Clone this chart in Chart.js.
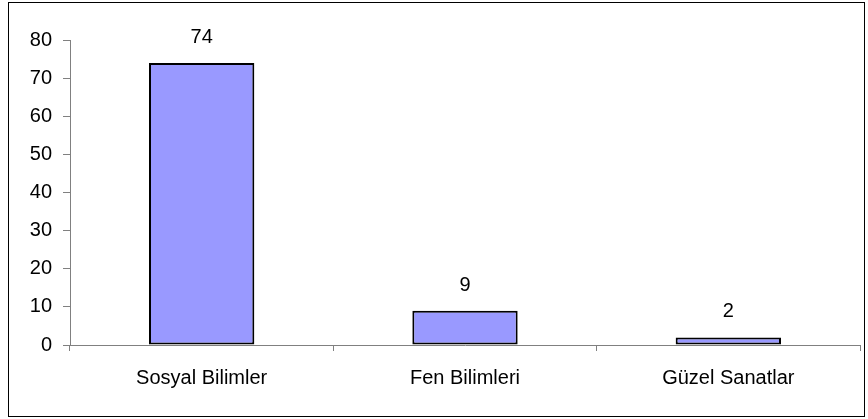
<!DOCTYPE html>
<html lang="tr">
<head>
  <meta charset="UTF-8" />
  <title>Alanlara göre dağılım</title>
  <script src="https://cdn.jsdelivr.net/npm/chart.js"></script>
  <style>
    body {
      margin: 0;
      background: #fff;
    }
    .wrap {
      position: relative;
      width: 868px;
      height: 419px;
    }
    .frame {
      position: absolute;
      left: 8px;
      top: 2px;
      width: 855px;
      height: 413px;
      border: 1px solid #000;
      pointer-events: none;
    }
    canvas {
      position: absolute;
      left: 0;
      top: 0;
    }
  </style>
</head>
<body>
  <div class="wrap">
    <canvas id="chart" width="868" height="419"></canvas>
    <div class="frame"></div>
  </div>

  <script>
    const categories = ['Sosyal Bilimler', 'Fen Bilimleri', 'Güzel Sanatlar'];
    const values = [74, 9, 2];
    const yTicks = [0, 10, 20, 30, 40, 50, 60, 70, 80];

    const fontFamily = 'Arial, "Liberation Sans", sans-serif';

    // value labels above each bar
    const valueLabels = {
      id: 'valueLabels',
      afterDatasetsDraw(chart) {
        const ctx = chart.ctx;
        const meta = chart.getDatasetMeta(0);
        ctx.save();
        ctx.font = '20px ' + fontFamily;
        ctx.fillStyle = '#000';
        ctx.textAlign = 'center';
        ctx.textBaseline = 'alphabetic';
        meta.data.forEach((bar, i) => {
          ctx.fillText(values[i], bar.x, bar.y - 20);
        });
        ctx.restore();
      }
    };

    new Chart(document.getElementById('chart'), {
      type: 'bar',
      data: {
        labels: categories,
        datasets: [{
          data: values,
          backgroundColor: '#9999ff',
          borderColor: '#000',
          borderWidth: 2,
          borderSkipped: false,
          barPercentage: 0.4,
          categoryPercentage: 1.0
        }]
      },
      options: {
        responsive: false,
        animation: false,
        layout: { padding: { top: 40, right: 8, left: 0, bottom: 0 } },
        plugins: {
          legend: { display: false },
          tooltip: { enabled: false }
        },
        scales: {
          x: {
            offset: true,
            grid: {
              offset: true,
              drawOnChartArea: false,
              drawTicks: true,
              tickLength: 6,
              color: '#808080'
            },
            border: { display: true, color: '#808080', width: 1 },
            ticks: {
              color: '#000',
              font: { family: fontFamily, size: 20 },
              padding: 15,
              maxRotation: 0
            },
            afterFit(axis) { axis.height = 74; }
          },
          y: {
            min: 0,
            max: 80,
            afterBuildTicks(axis) { axis.ticks = yTicks.map(v => ({ value: v })); },
            grid: {
              drawOnChartArea: false,
              drawTicks: true,
              tickLength: 7,
              color: '#808080'
            },
            border: { display: true, color: '#808080', width: 1 },
            ticks: {
              color: '#000',
              font: { family: fontFamily, size: 20 },
              padding: 11
            },
            afterFit(axis) { axis.width = 70; }
          }
        }
      },
      plugins: [valueLabels]
    });
  </script>
</body>
</html>
